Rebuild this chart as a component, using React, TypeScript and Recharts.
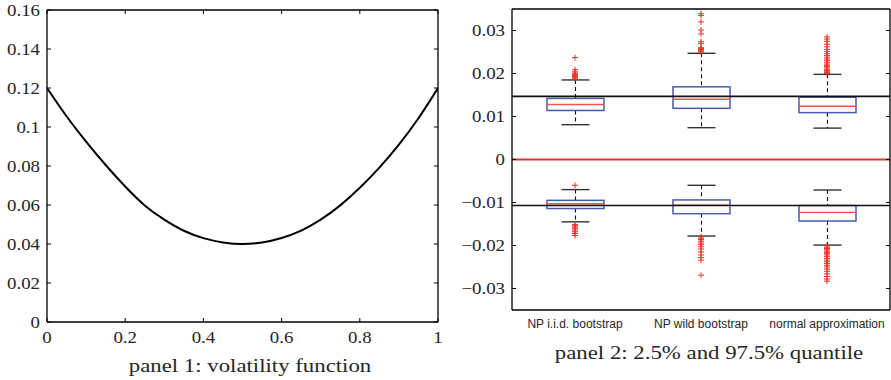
import React from 'react';
import { LineChart, Line, XAxis, YAxis, ComposedChart, Bar, Scatter, ReferenceLine } from 'recharts';

// ---------- panel 1 data ----------
const volX = [0, 0.05, 0.1, 0.15, 0.2, 0.25, 0.3, 0.35, 0.4, 0.45, 0.5, 0.55, 0.6, 0.65, 0.7, 0.75, 0.8, 0.85, 0.9, 0.95, 1];
const volY = [0.12, 0.1055, 0.0925, 0.0805, 0.0695, 0.0598, 0.0525, 0.0468, 0.0430, 0.0408, 0.0400, 0.0408, 0.0431, 0.0469, 0.0525, 0.0598, 0.0688, 0.0792, 0.0910, 0.1045, 0.12];
const volXTicks = [0, 0.2, 0.4, 0.6, 0.8, 1];
const volYTicks = [0, 0.02, 0.04, 0.06, 0.08, 0.1, 0.12, 0.14, 0.16];

// ---------- panel 2 data ----------
const methods = ['NP i.i.d. bootstrap', 'NP wild bootstrap', 'normal approximation'];
// 97.5% quantile boxes
const upLo = [0.0081, 0.0074, 0.0073];
const upQ1 = [0.0114, 0.0119, 0.0109];
const upMed = [0.0128, 0.0140, 0.0124];
const upQ3 = [0.0142, 0.0169, 0.0145];
const upHi = [0.0185, 0.0247, 0.0198];
const upOutliers = [
  [0.0188, 0.0191, 0.0193, 0.0195, 0.0197, 0.0199, 0.0201, 0.0204, 0.0209, 0.0237],
  [0.0250, 0.0252, 0.0254, 0.0256, 0.0258, 0.0260, 0.0270, 0.0274, 0.0292, 0.0301, 0.0320, 0.0335, 0.0339],
  [0.0200, 0.0202, 0.0204, 0.0207, 0.0210, 0.0213, 0.0216, 0.0219, 0.0222, 0.0226, 0.0230, 0.0234, 0.0238, 0.0242, 0.0246, 0.0251, 0.0256, 0.0262, 0.0268, 0.0275, 0.0280, 0.0285],
];
// 2.5% quantile boxes
const lowLo = [-0.0145, -0.0178, -0.0199];
const lowQ1 = [-0.0114, -0.0126, -0.0143];
const lowMed = [-0.0103, -0.0106, -0.0123];
const lowQ3 = [-0.0095, -0.0094, -0.0107];
const lowHi = [-0.0070, -0.0060, -0.0071];
const lowOutliers = [
  [-0.0060, -0.0151, -0.0154, -0.0157, -0.0160, -0.0164, -0.0168, -0.0172, -0.0177],
  [-0.0180, -0.0183, -0.0186, -0.0190, -0.0194, -0.0198, -0.0203, -0.0208, -0.0215, -0.0222, -0.0228, -0.0234, -0.0269],
  [-0.0201, -0.0204, -0.0207, -0.0210, -0.0213, -0.0216, -0.0219, -0.0222, -0.0226, -0.0230, -0.0234, -0.0238, -0.0242, -0.0246, -0.0250, -0.0255, -0.0260, -0.0266, -0.0272, -0.0278, -0.0283],
];
const trueUpper = 0.0147;
const trueLower = -0.0107;
const quantTicks = [-0.03, -0.02, -0.01, 0, 0.01, 0.02, 0.03];

const titles = ['panel 1: volatility function', 'panel 2: 2.5% and 97.5% quantile'];

// ---------- derived tables ----------
const volData = volX.map((x, i) => ({ x, y: volY[i] }));
const boxData = methods.map((name, i) => ({
  name,
  upper: [upQ1[i], upQ3[i]],
  lower: [lowQ1[i], lowQ3[i]],
  u: { lo: upLo[i], q1: upQ1[i], med: upMed[i], q3: upQ3[i], hi: upHi[i] },
  l: { lo: lowLo[i], q1: lowQ1[i], med: lowMed[i], q3: lowQ3[i], hi: lowHi[i] },
}));
const outlierData = methods.flatMap((name, i) =>
  [...upOutliers[i], ...lowOutliers[i]].map((v) => ({ name, v }))
);

const SERIF = '"Liberation Serif", "Times New Roman", serif';
const SANS = '"Liberation Sans", Arial, sans-serif';
const TXT = '#262626';

const fmt = (v: number) => (v < 0 ? '\u2212' + String(Math.round(-v * 1000) / 1000) : String(Math.round(v * 1000) / 1000));

const LeftYTick = (props: any) => {
  const { x, y, payload } = props;
  return (
    <g>
      <line x1={x} x2={x + 4} y1={y} y2={y} stroke="#000" strokeWidth={1} />
      <text
        transform={`translate(${x - 7},${y}) scale(1.11,1)`}
        textAnchor="end"
        dominantBaseline="central"
        fontFamily={SERIF}
        fontSize={17}
        fill={TXT}
      >
        {fmt(payload.value)}
      </text>
    </g>
  );
};

const RightYTick = (props: any) => {
  const { x, y } = props;
  return <line x1={x} x2={x - 4} y1={y} y2={y} stroke="#000" strokeWidth={1} />;
};

const BottomXTick = (props: any) => {
  const { x, y, payload } = props;
  return (
    <g>
      <line x1={x} x2={x} y1={y} y2={y - 4} stroke="#000" strokeWidth={1} />
      <text
        transform={`translate(${x},${y + 15}) scale(1.11,1)`}
        textAnchor="middle"
        dominantBaseline="central"
        fontFamily={SERIF}
        fontSize={17}
        fill={TXT}
      >
        {fmt(payload.value)}
      </text>
    </g>
  );
};

const TopXTick = (props: any) => {
  const { x, y } = props;
  return <line x1={x} x2={x} y1={y} y2={y + 4} stroke="#000" strokeWidth={1} />;
};

const CategoryTick = (props: any) => {
  const { x, y, payload } = props;
  return (
    <text x={x} y={y + 14} textAnchor="middle" dominantBaseline="central" fontFamily={SANS} fontSize={12} fill={TXT}>
      {payload.value}
    </text>
  );
};

const makeBoxShape = (key: 'u' | 'l') => (props: any) => {
  const { x, y, width, height, payload } = props;
  const s = payload[key];
  const k = height / (s.q3 - s.q1);
  const py = (v: number) => y + (s.q3 - v) * k;
  const cx = x + width / 2;
  const cap = 14;
  return (
    <g>
      <line x1={cx} x2={cx} y1={py(s.hi)} y2={y} stroke="#111" strokeWidth={1.1} strokeDasharray="4 3" />
      <line x1={cx} x2={cx} y1={y + height} y2={py(s.lo)} stroke="#111" strokeWidth={1.1} strokeDasharray="4 3" />
      <line x1={cx - cap} x2={cx + cap} y1={py(s.hi)} y2={py(s.hi)} stroke="#333" strokeWidth={1.4} />
      <line x1={cx - cap} x2={cx + cap} y1={py(s.lo)} y2={py(s.lo)} stroke="#333" strokeWidth={1.4} />
      <rect x={x} y={y} width={width} height={height} fill="none" stroke="#4a5aac" strokeWidth={1.5} />
      <line x1={x} x2={x + width} y1={py(s.med)} y2={py(s.med)} stroke="#e8554a" strokeWidth={1.4} />
    </g>
  );
};

const PlusShape = (props: any) => {
  const { cx, cy } = props;
  return (
    <g>
      <line x1={cx - 3} x2={cx + 3} y1={cy} y2={cy} stroke="#e8362b" strokeWidth={1} />
      <line x1={cx} x2={cx} y1={cy - 3} y2={cy + 3} stroke="#e8362b" strokeWidth={1} />
    </g>
  );
};

const UpperBox = makeBoxShape('u');
const LowerBox = makeBoxShape('l');

const frame = { stroke: '#000', strokeWidth: 1.3 };

export default function App() {
  return (
    <div style={{ position: 'absolute', left: 0, top: 0, width: 891, height: 380, background: '#fff', overflow: 'hidden' }}>
      <div style={{ position: 'absolute', left: 0, top: 0 }}>
        <LineChart width={445} height={380} data={volData} margin={{ top: 9, right: 6, bottom: 57, left: 46 }}>
          <XAxis
            dataKey="x"
            type="number"
            domain={[0, 1]}
            ticks={volXTicks}
            interval={0}
            height={1}
            tickSize={0}
            tickMargin={0}
            tickLine={false}
            axisLine={frame}
            tick={<BottomXTick />}
            allowDataOverflow
          />
          <XAxis
            xAxisId="top"
            orientation="top"
            dataKey="x"
            type="number"
            domain={[0, 1]}
            ticks={volXTicks}
            interval={0}
            height={1}
            tickSize={0}
            tickMargin={0}
            tickLine={false}
            axisLine={frame}
            tick={<TopXTick />}
            allowDataOverflow
          />
          <YAxis
            type="number"
            domain={[0, 0.16]}
            ticks={volYTicks}
            interval={0}
            width={1}
            tickSize={0}
            tickMargin={0}
            tickLine={false}
            axisLine={frame}
            tick={<LeftYTick />}
            allowDataOverflow
          />
          <YAxis
            yAxisId="right"
            orientation="right"
            type="number"
            domain={[0, 0.16]}
            ticks={volYTicks}
            interval={0}
            width={1}
            tickSize={0}
            tickMargin={0}
            tickLine={false}
            axisLine={frame}
            tick={<RightYTick />}
            allowDataOverflow
          />
          <Line dataKey="y" type="natural" stroke="#000" strokeWidth={2} dot={false} isAnimationActive={false} />
        </LineChart>
      </div>
      <div style={{ position: 'absolute', left: 445, top: 0 }}>
        <ComposedChart width={446} height={380} data={boxData} margin={{ top: 8, right: 0, bottom: 69, left: 66 }}>
          <XAxis
            dataKey="name"
            type="category"
            allowDuplicatedCategory={false}
            interval={0}
            height={1}
            tickSize={0}
            tickMargin={0}
            tickLine={false}
            axisLine={frame}
            tick={<CategoryTick />}
          />
          <XAxis
            xAxisId="top"
            orientation="top"
            dataKey="name"
            type="category"
            allowDuplicatedCategory={false}
            height={1}
            tickLine={false}
            axisLine={frame}
            tick={false}
          />
          <YAxis
            type="number"
            domain={[-0.035, 0.035]}
            ticks={quantTicks}
            interval={0}
            width={1}
            tickSize={0}
            tickMargin={0}
            tickLine={false}
            axisLine={frame}
            tick={<LeftYTick />}
            allowDataOverflow
          />
          <YAxis
            yAxisId="right"
            orientation="right"
            type="number"
            domain={[-0.035, 0.035]}
            ticks={quantTicks}
            interval={0}
            width={1}
            tickSize={0}
            tickMargin={0}
            tickLine={false}
            axisLine={frame}
            tick={<RightYTick />}
            allowDataOverflow
          />
          <Bar dataKey="upper" barSize={57} shape={UpperBox} isAnimationActive={false} />
          <Bar dataKey="lower" xAxisId="top" barSize={57} shape={LowerBox} isAnimationActive={false} />
          <Scatter data={outlierData} dataKey="v" shape={PlusShape} isAnimationActive={false} />
          <ReferenceLine y={0} stroke="#e0392b" strokeWidth={2} />
          <ReferenceLine y={trueUpper} stroke="#111" strokeWidth={1.7} />
          <ReferenceLine y={trueLower} stroke="#111" strokeWidth={1.7} />
        </ComposedChart>
      </div>
      <div
        style={{
          position: 'absolute', left: 250, top: 365, transform: 'translate(-50%, -50%) scaleX(1.2)',
          fontFamily: SERIF, fontSize: 19, color: TXT, whiteSpace: 'nowrap', lineHeight: 1,
        }}
      >
        {titles[0]}
      </div>
      <div
        style={{
          position: 'absolute', left: 709, top: 352, transform: 'translate(-50%, -50%) scaleX(1.2)',
          fontFamily: SERIF, fontSize: 19, color: TXT, whiteSpace: 'nowrap', lineHeight: 1,
        }}
      >
        {titles[1]}
      </div>
    </div>
  );
}
